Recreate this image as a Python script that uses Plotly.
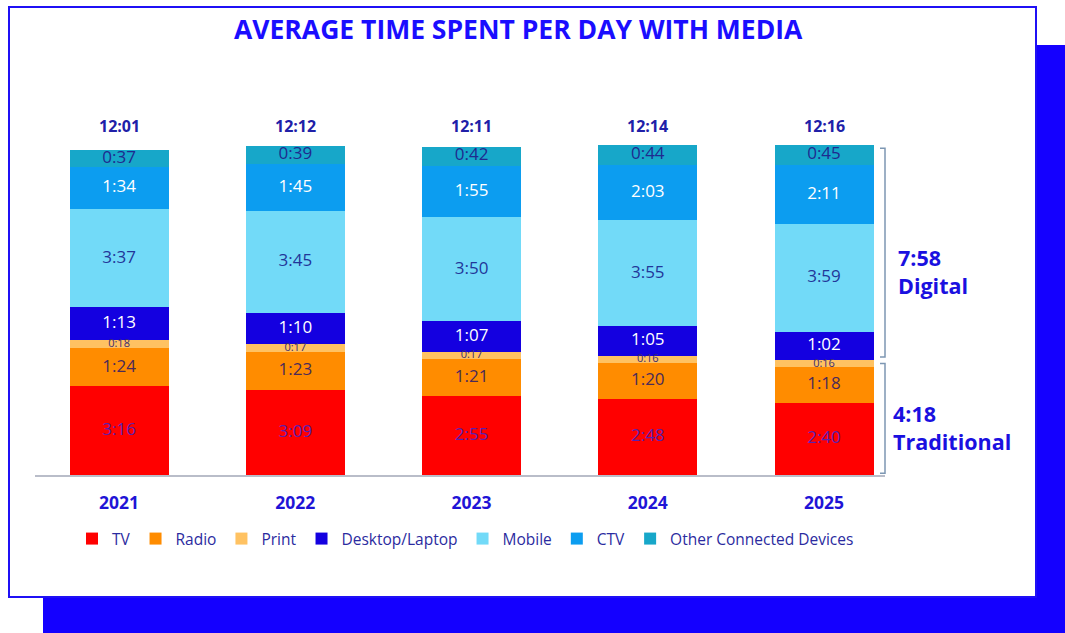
import plotly.graph_objects as go

# ---- data (minutes per day) ----
years = ["2021", "2022", "2023", "2024", "2025"]
totals_text = ["12:01", "12:12", "12:11", "12:14", "12:16"]

tv = [196, 189, 175, 168, 160]
radio = [84, 83, 81, 80, 78]
print_ = [18, 17, 17, 16, 16]
desktop = [73, 70, 67, 65, 62]
mobile = [217, 225, 230, 235, 239]
ctv = [94, 105, 115, 123, 131]
other = [37, 39, 42, 44, 45]

digital_label = "7:58"
traditional_label = "4:18"

series = [
    ("TV", tv, "#ff0000", "#5a20b0", 17),
    ("Radio", radio, "#ff8c00", "#4a2a5a", 17),
    ("Print", print_, "#ffc262", "#3a2a70", 11),
    ("Desktop/Laptop", desktop, "#1400e0", "#ffffff", 17),
    ("Mobile", mobile, "#72daf8", "#22369a", 17),
    ("CTV", ctv, "#0c9df0", "#ffffff", 17),
    ("Other Connected Devices", other, "#17a7c9", "#1f2a8f", 17),
]

W, H = 1065, 633
L, R, T, B = 35, 180, 100, 158
PW, PH = W - L - R, H - T - B
YMAX = 830


def px(x):
    return (x - L) / PW


def py(y):
    return (H - B - y) / PH


def hmm(m):
    return f"{m // 60}:{m % 60:02d}"


fig = go.Figure()
xs = list(range(len(years)))
base = [0] * len(xs)
label_traces = []
for name, vals, color, tcolor, tsize in series:
    fig.add_trace(go.Bar(
        x=xs, y=vals, name=name, width=0.562,
        marker=dict(color=color, line=dict(width=0)),
        hoverinfo="skip",
    ))
    mids = [base[i] + vals[i] / 2 for i in xs]
    label_traces.append(go.Scatter(
        x=xs, y=mids, mode="text", text=[hmm(v) for v in vals],
        textposition="middle center", showlegend=False, hoverinfo="skip",
        textfont=dict(family="Open Sans", size=tsize, color=tcolor),
    ))
    base = [base[i] + vals[i] for i in xs]
for tr in label_traces:
    fig.add_trace(tr)

stack_tops = base
trad = [tv[i] + radio[i] + print_[i] for i in xs]

shapes = [
    # offset blue backdrop
    dict(type="rect", xref="paper", yref="paper", layer="below",
         x0=px(43), x1=px(1070), y0=py(640), y1=py(45),
         fillcolor="#1400ff", line=dict(width=0)),
    # white card
    dict(type="rect", xref="paper", yref="paper", layer="below",
         x0=px(9), x1=px(1036), y0=py(597), y1=py(7),
         fillcolor="#ffffff", line=dict(color="#1f10f5", width=2)),
]

# brackets for the last year: digital and traditional groups
last = xs[-1]
bx0, bx1 = px(880), px(885)
d_top, d_bot = stack_tops[last] - 8, trad[last] + 7
t_top, t_bot = trad[last] - 7, 4
for top, bot in [(d_top, d_bot), (t_top, t_bot)]:
    shapes.append(dict(
        type="path", xref="paper", yref="y",
        path=f"M {bx0},{top} L {bx1},{top} L {bx1},{bot} L {bx0},{bot}",
        line=dict(color="#7d97b3", width=1.5),
    ))

annotations = [
    dict(text="<b>AVERAGE TIME SPENT PER DAY WITH MEDIA</b>", xref="paper", yref="paper",
         x=px(518), y=py(29), showarrow=False, xanchor="center", yanchor="middle",
         font=dict(family="Open Sans", size=26.5, color="#1a0dff")),
    dict(text=f"<b>{digital_label}<br>Digital</b>", xref="paper", yref="paper",
         x=px(896), y=py(271), showarrow=False, xanchor="left", yanchor="middle", align="left",
         font=dict(family="Open Sans", size=21.5, color="#1a10e0")),
    dict(text=f"<b>{traditional_label}<br>Traditional</b>", xref="paper", yref="paper",
         x=px(891), y=py(427), showarrow=False, xanchor="left", yanchor="middle", align="left",
         font=dict(family="Open Sans", size=21.5, color="#1a10e0")),
]
for i, t in enumerate(totals_text):
    annotations.append(dict(
        text=f"<b>{t}</b>", x=xs[i], xref="x", yref="paper", y=py(126),
        showarrow=False, xanchor="center", yanchor="middle",
        font=dict(family="Open Sans", size=16, color="#2020a8"),
    ))

fig.update_layout(
    width=W, height=H, autosize=False,
    margin=dict(l=L, r=R, t=T, b=B, pad=0),
    barmode="stack", bargap=0,
    paper_bgcolor="#ffffff", plot_bgcolor="rgba(0,0,0,0)",
    showlegend=True,
    legend=dict(orientation="h", x=px(72), y=py(539), xanchor="left", yanchor="middle",
                traceorder="normal", itemwidth=30, bgcolor="rgba(0,0,0,0)",
                font=dict(family="Open Sans", size=15.5, color="#2b2ba0")),
    shapes=shapes, annotations=annotations,
)
fig.update_xaxes(range=[-0.477, 4.346], tickvals=xs, ticktext=[f"<b>{y}</b>" for y in years],
                 showline=True, linecolor="#b9bdc9", linewidth=2, ticks="",
                 showgrid=False, zeroline=False, ticklabelstandoff=11,
                 tickfont=dict(family="Open Sans", size=17.5, color="#1f14d6"))
fig.update_yaxes(range=[0, YMAX], visible=False, showgrid=False, zeroline=False)

fig.write_html("out.html")
